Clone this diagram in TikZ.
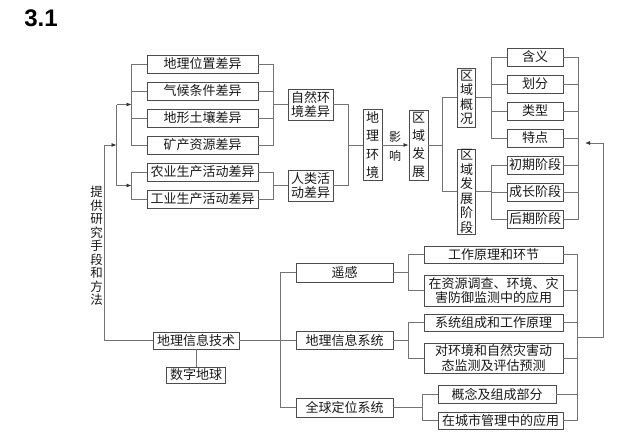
\documentclass[tikz,border=0pt]{standalone}
\usepackage{fontspec}
\newfontfamily\cjk{Noto Sans CJK SC}
\newfontfamily\titlefont{Liberation Sans}
\usetikzlibrary{calc,arrows.meta,positioning}

\tikzset{
  box/.style={draw=black!70, line width=0.9pt, fill=white, inner sep=0pt,
    align=center, text=black!90, font=\cjk\fontsize{13}{14.5}\selectfont},
  vbox/.style={box, minimum width=#1},
  wire/.style={draw=black!55, line width=0.8pt},
  tip/.style={wire, -{Latex[length=5pt,width=4pt,color=black!80]}},
  plain/.style={inner sep=0pt, align=center, text=black!90}
}

\begin{document}
\begin{tikzpicture}[x=1pt,y=-1pt]
  \useasboundingbox (0,0) rectangle (640,434);
  \node[font=\titlefont\bfseries\fontsize{24}{24}\selectfont] (ttl) at (41,18.5) {3.1};

  % differences
  \node[box, minimum width=111, minimum height=18](loc) at (202.5,64){地理位置差异};
  \node[box, minimum width=111, minimum height=18](clim) at (202.5,91){气候条件差异};
  \node[box, minimum width=111, minimum height=18](soil) at (202.5,118){地形土壤差异};
  \node[box, minimum width=111, minimum height=18](mine) at (202.5,145){矿产资源差异};
  \node[box, minimum width=111, minimum height=18](agri) at (202.5,172){农业生产活动差异};
  \node[box, minimum width=111, minimum height=18](indu) at (202.5,199){工业生产活动差异};
  \node[box, minimum width=45, minimum height=31](nat) at (310.5,104.5){自然环\\境差异};
  \node[box, minimum width=45, minimum height=31](hum) at (310.5,185.5){人类活\\动差异};
  \node[vbox=19, minimum height=71, font=\cjk\fontsize{13}{18.5}\selectfont](env) at (372.5,145){地\\理\\环\\境};
  \node[plain, font=\cjk\fontsize{12}{19}\selectfont](infl) at (395,146.5){影\\响};
  \node[vbox=19, minimum height=70, font=\cjk\fontsize{13}{18}\selectfont](dev) at (418.5,145){区\\域\\发\\展};
  \node[vbox=18, minimum height=59](gai) at (466.5,97.5){区\\域\\概\\况};
  \node[vbox=18, minimum height=85](stage) at (466.5,191.5){区\\域\\发\\展\\阶\\段};
  \node[box, minimum width=56, minimum height=18](mean) at (535,57){含义};
  \node[box, minimum width=56, minimum height=18](part) at (535,84){划分};
  \node[box, minimum width=56, minimum height=18](kind) at (535,111){类型};
  \node[box, minimum width=56, minimum height=18](feat) at (535,138){特点};
  \node[box, minimum width=56, minimum height=18](early) at (535,165){初期阶段};
  \node[box, minimum width=56, minimum height=18](grow) at (535,192){成长阶段};
  \node[box, minimum width=56, minimum height=18](late) at (535,219){后期阶段};

  % methods
  \node[plain, font=\cjk\fontsize{12.5}{13.5}\selectfont](method) at (96.5,246){提\\供\\研\\究\\手\\段\\和\\方\\法};
  \node[box, minimum width=86, minimum height=17](tech) at (196,340.5){地理信息技术};
  \node[box, minimum width=59, minimum height=16](earth) at (196,375){数字地球};
  \node[box, minimum width=97, minimum height=19](rs) at (344.5,272.5){遥感};
  \node[box, minimum width=97, minimum height=18](gis) at (344.5,340.5){地理信息系统};
  \node[box, minimum width=97, minimum height=19](gps) at (344.5,407.5){全球定位系统};
  \node[box, minimum width=139, minimum height=17](rsa) at (493.5,254.5){工作原理和环节};
  \node[box, minimum width=139, minimum height=31](rsb) at (493.5,290.5){在资源调查、环境、灾\\害防御监测中的应用};
  \node[box, minimum width=139, minimum height=17](gisa) at (493.5,322.5){系统组成和工作原理};
  \node[box, minimum width=139, minimum height=30](gisb) at (493.5,358){对环境和自然灾害动\\态监测及评估预测};
  \node[box, minimum width=118, minimum height=18](gpsa) at (497,394){概念及组成部分};
  \node[box, minimum width=125, minimum height=17](gpsb) at (500.5,420.5){在城市管理中的应用};

  % left brackets
  \draw[wire](loc.west)--++(-15,0)coordinate(natL)|-(mine.west);
  \draw[wire](clim.west)--++(-15,0);
  \draw[wire](soil.west)--++(-15,0);
  \draw[wire](agri.west)--++(-15,0)|-(indu.west);
  \coordinate(natIn) at ($(loc.west)!0.5!(mine.west)+(-15,0)$);
  \coordinate(humIn) at ($(agri.west)!0.5!(indu.west)+(-15,0)$);
  \coordinate(split) at ($(natIn)!0.5!(humIn)+(-15,0)$);
  \coordinate(root) at ($(split)+(-12,0)$);
  \draw[wire](split|-natIn)--(split|-humIn);
  \draw[tip](split|-natIn)--(natIn);
  \draw[tip](split|-humIn)--(humIn);
  \draw[tip](root)--(split);
  \draw[wire](root)|-(tech.west);

  % right of differences
  \draw[wire](loc.east)--++(15,0)|-(mine.east);
  \draw[wire](clim.east)--++(15,0);
  \draw[wire](soil.east)--++(15,0);
  \draw[wire]($(loc.east)!0.5!(mine.east)+(15,0)$)--(nat.west);
  \draw[wire](agri.east)--++(15,0)|-(indu.east);
  \draw[wire]($(agri.east)!0.5!(indu.east)+(15,0)$)--(hum.west);
  \draw[wire](nat.east)--++(15,0)|-(hum.east);
  \draw[wire]($(nat.east)!0.5!(hum.east)+(15,0)$)--(env.west);
  \draw[tip](env.east)--(dev.west);

  % region
  \draw[wire](gai.west)--++(-15,0)coordinate(devR)|-(stage.west);
  \draw[wire](dev.east)--(dev.east-|devR);
  \draw[wire](mean.west)--++(-15,0)coordinate(gaiR)|-(feat.west);
  \draw[wire](part.west)--++(-15,0);
  \draw[wire](kind.west)--++(-15,0);
  \draw[wire](gai.east)--(gai.east-|gaiR);
  \draw[wire](early.west)--++(-15,0)coordinate(stageR)|-(late.west);
  \draw[wire](grow.west)--++(-15,0);
  \draw[wire](stage.east)--(stage.east-|stageR);
  \draw[wire](mean.east)--++(15,0)|-(late.east);
  \foreach \n in {part,kind,feat,early,grow}
    \draw[wire](\n.east)--++(15,0);

  % techniques
  \draw[wire](tech)--(earth);
  \draw[wire](tech.east)--(gis.west);
  \draw[wire](rs.west)--++(-15,0)|-(gps.west);
  \draw[wire](rsa.west)--++(-15,0)coordinate(rsL)|-(rsb.west);
  \draw[wire](rs.east)--(rs.east-|rsL);
  \draw[wire](gisa.west)--++(-15,0)coordinate(gisL)|-(gisb.west);
  \draw[wire](gis.east)--(gis.east-|gisL);
  \draw[wire](gpsa.west)--++(-15,0)coordinate(gpsL)|-(gpsb.west);
  \draw[wire](gps.east)--(gps.east-|gpsL);
  \draw[wire](rsa.east)--++(14,0)coordinate(botR)|-(gpsb.east);
  \foreach \n in {rsb,gisa,gisb}
    \draw[wire](\n.east)--++(14,0);
  \draw[wire](gpsa.east)--(gpsa.east-|botR);
  \coordinate(fb) at (603,337);
  \coordinate(fbEnd) at (585,143);
  \draw[tip](botR|-fb)--(fb)|-(fbEnd);
\end{tikzpicture}
\end{document}
